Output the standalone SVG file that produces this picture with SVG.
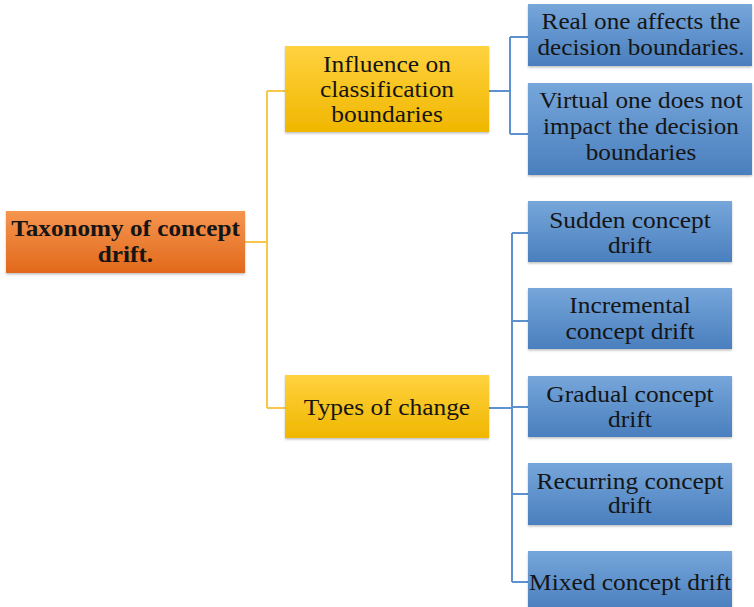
<svg xmlns="http://www.w3.org/2000/svg" width="754" height="607" viewBox="0 0 754 607">
<defs>
<linearGradient id="gO" x1="0" y1="0" x2="0" y2="1"><stop offset="0" stop-color="#F5954F"/><stop offset="1" stop-color="#E2691C"/></linearGradient>
<linearGradient id="gY" x1="0" y1="0" x2="0" y2="1"><stop offset="0" stop-color="#FFD23F"/><stop offset="1" stop-color="#F0B700"/></linearGradient>
<linearGradient id="gB" x1="0" y1="0" x2="0" y2="1"><stop offset="0" stop-color="#76A6DA"/><stop offset="1" stop-color="#4A7FBE"/></linearGradient>
<filter id="sh" x="-5%" y="-10%" width="110%" height="125%"><feDropShadow dx="0" dy="1.5" stdDeviation="1.2" flood-color="#000" flood-opacity="0.25"/></filter>
</defs>
<style>
text{font-family:"Liberation Serif","Times New Roman",serif;font-size:24px;fill:#151515;text-anchor:middle}
.b{font-weight:bold}
.o{fill:url(#gO);filter:url(#sh)}
.y{fill:url(#gY);filter:url(#sh)}
.bl{fill:url(#gB);filter:url(#sh)}
.cy{stroke:#F7C74C;stroke-width:2;fill:none}
.cb{stroke:#5D92CF;stroke-width:2;fill:none}
</style>
<rect width="754" height="607" fill="#fff"/>
<g id="connectors">
<path class="cy" d="M245,242H267M267,91V408M267,91H285M267,408H285"/>
<path class="cb" d="M489,91H510M510,37V134M510,37H528M510,134H528"/>
<path class="cb" d="M489,408H512M512,233V582M512,233H528M512,321H528M512,407H528M512,494H528M512,582H528"/>
</g>
<g id="root"><rect class="o" x="6" y="211" width="239" height="62"/>
<g transform="translate(125.5,0) scale(1.05,1)"><text class="b" x="0" y="236">Taxonomy of concept</text><text class="b" x="0" y="262">drift.</text></g></g>
<g id="influence"><rect class="y" x="285" y="46" width="204" height="86"/>
<g transform="translate(387,0) scale(1.06,1)"><text x="0" y="72">Influence on</text><text x="0" y="97">classification</text><text x="0" y="122">boundaries</text></g></g>
<g id="types"><rect class="y" x="285" y="375" width="204" height="63"/>
<g transform="translate(387,0) scale(1.06,1)"><text x="0" y="415">Types of change</text></g></g>
<g id="real"><rect class="bl" x="528" y="4" width="224" height="62"/>
<g transform="translate(641,0) scale(1.05,1)"><text x="0" y="29">Real one affects the</text><text x="0" y="55">decision boundaries.</text></g></g>
<g id="virtual"><rect class="bl" x="528" y="83" width="224" height="92"/>
<g transform="translate(641,0) scale(1.05,1)"><text x="0" y="108">Virtual one does not</text><text x="0" y="134">impact the decision</text><text x="0" y="160">boundaries</text></g></g>
<g id="sudden"><rect class="bl" x="528" y="201" width="204" height="61"/>
<g transform="translate(630,0) scale(1.06,1)"><text x="0" y="228">Sudden concept</text><text x="0" y="253">drift</text></g></g>
<g id="incremental"><rect class="bl" x="528" y="288" width="204" height="61"/>
<g transform="translate(630,0) scale(1.06,1)"><text x="0" y="313">Incremental</text><text x="0" y="339">concept drift</text></g></g>
<g id="gradual"><rect class="bl" x="528" y="376" width="204" height="61"/>
<g transform="translate(630,0) scale(1.06,1)"><text x="0" y="402">Gradual concept</text><text x="0" y="427">drift</text></g></g>
<g id="recurring"><rect class="bl" x="528" y="463" width="204" height="62"/>
<g transform="translate(630,0) scale(1.06,1)"><text x="0" y="489">Recurring concept</text><text x="0" y="513">drift</text></g></g>
<g id="mixed"><rect class="bl" x="528" y="551" width="204" height="58"/>
<g transform="translate(630,0) scale(1.06,1)"><text x="0" y="590">Mixed concept drift</text></g></g>
</svg>
